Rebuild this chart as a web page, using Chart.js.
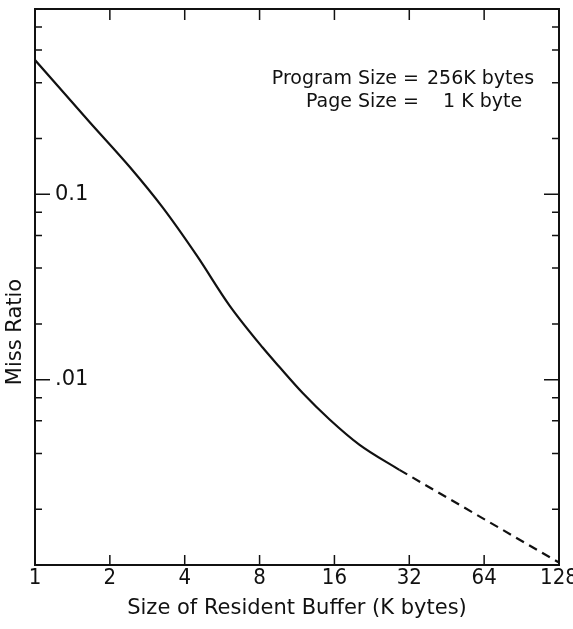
<!DOCTYPE html>
<html>
<head>
<meta charset="utf-8">
<script src="https://cdn.jsdelivr.net/npm/chart.js@4.4.0/dist/chart.umd.min.js"></script>
<style>
  html, body { margin: 0; padding: 0; background: #fff; }
  #wrap { width: 573px; height: 629px; }
</style>
</head>
<body>
<div id="wrap"><canvas id="myChart"></canvas></div>
<script>
// Datos
const bufferSizes = [1, 1.66, 2.41, 3.26, 4.47, 6.06, 8.23, 9.62, 11.9, 15.3, 20.2, 29.2];
const missRatios = [0.53, 0.245, 0.14, 0.085, 0.0468, 0.0251, 0.0149, 0.0117, 0.0085, 0.0061, 0.00445, 0.00326];
const extrapSizes = [29.2, 128];
const extrapRatios = [0.00326, 0.00103];

const xTickValues = [1, 2, 4, 8, 16, 32, 64, 128];
const yTickValues = [0.001, 0.002, 0.004, 0.006, 0.008,
                     0.01, 0.02, 0.04, 0.06, 0.08,
                     0.1, 0.2, 0.4, 0.6, 0.8, 1];
const yTickLabels = { 0.1: '0.1', 0.01: '.01' };

const xTitle = 'Size of Resident Buffer (K bytes)';
const yTitle = 'Miss Ratio';
const noteLines = [
    ['Program Size =', '256K bytes'],
    ['Page Size =', '1 K byte']
];

const INK = '#111';
const FONT = 'DejaVu Sans';

// Marco y marcas hacia dentro, titulo Y y nota
const frameTicks = {
    id: 'frameTicks',
    afterDraw(chart) {
        const { ctx, chartArea: a, scales: { x, y } } = chart;
        ctx.save();
        ctx.strokeStyle = INK;
        ctx.lineWidth = 2;
        ctx.strokeRect(a.left, a.top, a.right - a.left, a.bottom - a.top);

        ctx.lineWidth = 1.5;
        ctx.beginPath();
        x.ticks.forEach(t => {
            const px = x.getPixelForValue(t.value);
            ctx.moveTo(px, a.bottom); ctx.lineTo(px, a.bottom - 10);
            ctx.moveTo(px, a.top); ctx.lineTo(px, a.top + 11);
        });
        y.ticks.forEach(t => {
            const py = y.getPixelForValue(t.value);
            const len = yTickLabels[t.value] ? 15 : 7;
            ctx.moveTo(a.left, py); ctx.lineTo(a.left + len, py);
            ctx.moveTo(a.right, py); ctx.lineTo(a.right - len, py);
        });
        ctx.stroke();

        ctx.fillStyle = INK;
        ctx.font = '21px "' + FONT + '"';
        ctx.textAlign = 'center';
        ctx.textBaseline = 'middle';
        ctx.translate(16, 332);
        ctx.rotate(-Math.PI / 2);
        ctx.fillText(yTitle, 0, 0);
        ctx.setTransform(1, 0, 0, 1, 0, 0);

        ctx.font = '19px "' + FONT + '"';
        ctx.textBaseline = 'alphabetic';
        ctx.textAlign = 'right';
        ctx.fillText(noteLines[0][0], 419, 84);
        ctx.fillText(noteLines[1][0], 419, 107);
        ctx.textAlign = 'left';
        ctx.fillText(noteLines[0][1], 427, 84);
        ctx.fillText(noteLines[1][1], 443, 107);
        ctx.restore();
    }
};

const ctx = document.getElementById('myChart').getContext('2d');
const myChart = new Chart(ctx, {
    type: 'line',
    data: {
        datasets: [
            {
                data: bufferSizes.map((v, i) => ({ x: v, y: missRatios[i] })),
                borderColor: INK,
                borderWidth: 2.2,
                pointRadius: 0,
                fill: false,
                cubicInterpolationMode: 'monotone'
            },
            {
                data: extrapSizes.map((v, i) => ({ x: v, y: extrapRatios[i] })),
                borderColor: INK,
                borderWidth: 2.2,
                borderDash: [9, 6],
                pointRadius: 0,
                fill: false
            }
        ]
    },
    options: {
        responsive: true,
        maintainAspectRatio: false,
        animation: false,
        layout: { padding: { top: 9, right: 14, left: 0, bottom: 0 } },
        plugins: { legend: { display: false }, tooltip: { enabled: false } },
        scales: {
            x: {
                type: 'logarithmic',
                min: 1,
                max: 128,
                afterBuildTicks: s => { s.ticks = xTickValues.map(v => ({ value: v })); },
                afterFit: s => { s.height = 64; s.paddingLeft = 0; s.paddingRight = 0; },
                grid: { display: false },
                border: { display: false },
                ticks: {
                    autoSkip: false,
                    maxRotation: 0,
                    padding: -8,
                    color: INK,
                    font: { family: 'DejaVu Sans Condensed, DejaVu Sans', size: 22 },
                    callback: v => String(v)
                },
                title: {
                    display: true,
                    text: xTitle,
                    color: INK,
                    font: { family: FONT, size: 21 },
                    padding: { top: 0, bottom: 8 }
                }
            },
            y: {
                type: 'logarithmic',
                min: 0.001,
                max: 1,
                afterBuildTicks: s => { s.ticks = yTickValues.map(v => ({ value: v })); },
                afterFit: s => { s.width = 35; s.paddingTop = 0; s.paddingBottom = 0; },
                grid: { display: false },
                border: { display: false },
                ticks: {
                    mirror: true,
                    padding: 20,
                    autoSkip: false,
                    color: INK,
                    font: { family: FONT, size: 21 },
                    callback: v => yTickLabels[v] || ''
                }
            }
        }
    },
    plugins: [frameTicks]
});
</script>
</body>
</html>
